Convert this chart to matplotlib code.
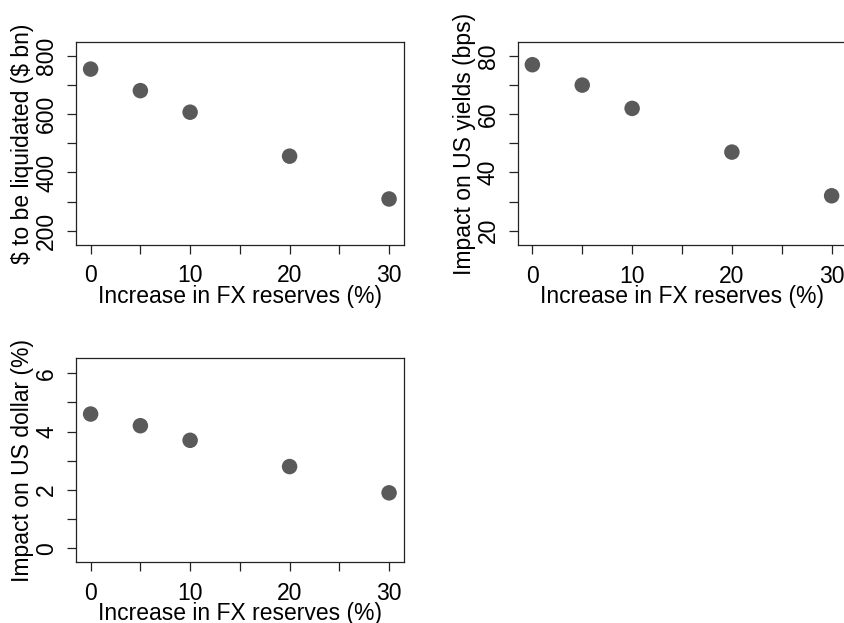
import matplotlib
matplotlib.use('Agg')
import matplotlib.pyplot as plt
from matplotlib.transforms import ScaledTranslation

plt.rcParams['font.family'] = ['Liberation Sans', 'DejaVu Sans']

# data
reserves = [0, 5, 10, 20, 30]
liquidated = [755, 681, 607, 456, 309]
yields_bps = [77, 70, 62, 47, 32]
dollar_pct = [4.6, 4.2, 3.7, 2.8, 1.9]

W, H = 845, 623
fig = plt.figure(figsize=(W / 100, H / 100), dpi=100)

def panel(left, top, right, bottom, y, ylim, yticks, ylabel):
    ax = fig.add_axes([left / W, 1 - bottom / H, (right - left) / W, (bottom - top) / H])
    ax.scatter(reserves, y, s=(15.5 * 0.72) ** 2, color='#5a5a5a', edgecolors='none', zorder=3)
    ax.set_xlim(-1.47, 31.5)
    ax.set_ylim(*ylim)
    ax.set_xticks(range(0, 31, 5))
    ax.set_xticklabels(['0', '', '10', '', '20', '', '30'])
    ax.set_yticks(yticks)
    labs = [str(t) if i % 2 == 0 else '' for i, t in enumerate(yticks)]
    ax.set_yticklabels(labs, rotation=90, va='center')
    ax.tick_params(direction='out', length=6.5, width=0.9, labelsize=16.5, color='#222222')
    ax.tick_params(axis='x', pad=7.5)
    ax.tick_params(axis='y', pad=6.4)
    for s in ax.spines.values():
        s.set_linewidth(0.9)
        s.set_color('#222222')
    # axis labels placed by baseline, offset in pixels from the axes edge
    ax.set_xlabel('Increase in FX reserves (%)', fontsize=16.5, va='baseline')
    ax.xaxis.set_label_coords(0.5, 0, transform=ax.transAxes + ScaledTranslation(0, -0.58, fig.dpi_scale_trans))
    ax.set_ylabel(ylabel, fontsize=16.5, va='baseline')
    ax.yaxis.set_label_coords(0, 0.5, transform=ax.transAxes + ScaledTranslation(-0.465, 0, fig.dpi_scale_trans))
    return ax

panel(76, 42, 404, 245, liquidated, (151, 848), [200, 300, 400, 500, 600, 700, 800], r'\$ to be liquidated (\$ bn)')
panel(517.7, 41.7, 846.6, 245.3, yields_bps, (15, 84.9), [20, 30, 40, 50, 60, 70, 80], 'Impact on US yields (bps)')
panel(76, 358.3, 404, 562.3, dollar_pct, (-0.48, 6.51), [0, 1, 2, 3, 4, 5, 6], 'Impact on US dollar (%)')

fig.savefig('out.png', dpi=100)
